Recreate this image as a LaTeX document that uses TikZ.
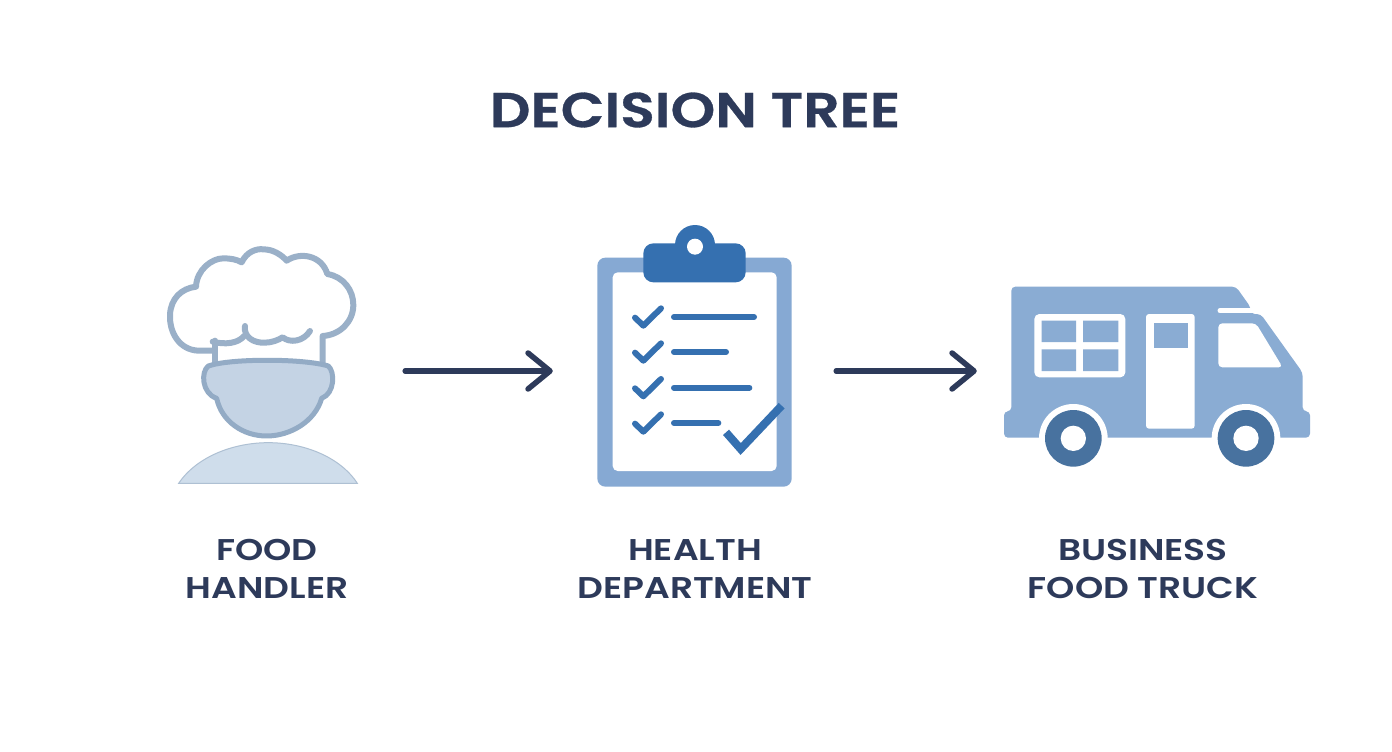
\documentclass[tikz,border=0pt]{standalone}
\usepackage{xcolor}
\usepackage{fontspec}
\setmainfont{Poppins}[BoldFont={Poppins SemiBold},BoldFeatures={FakeStretch=1.2}]
\newfontfamily\titlefont{Poppins SemiBold}[FakeStretch=1.16,FakeBold=0.6]
\usetikzlibrary{arrows.meta}

\definecolor{inkblue}{HTML}{2D3A5A}
\definecolor{hatblue}{HTML}{9AB0C8}
\definecolor{faceblue}{HTML}{C4D3E4}
\definecolor{skinline}{HTML}{93ABC5}
\definecolor{bodyblue}{HTML}{CFDDEB}
\definecolor{boardblue}{HTML}{86A9D3}
\definecolor{clipblue}{HTML}{3570B0}
\definecolor{truckblue}{HTML}{8AACD3}
\definecolor{wheelblue}{HTML}{48729F}

\tikzset{
    iconbox/.style={minimum height=226pt,inner sep=0pt},
    steplabel/.style={align=center,text=inkblue,font=\fontsize{30}{38}\selectfont\bfseries},
    flowarrow/.style={draw=inkblue,line width=5.5pt,line cap=round,-{Straight Barb[length=22pt,width=36pt,line width=5.5pt,round]}},
    tickmark/.style={draw=clipblue,line width=6pt,line cap=round,line join=round},
    taskline/.style={draw=clipblue,line width=6pt,line cap=round},
    hatline/.style={draw=hatblue,line width=6pt,line cap=round,line join=round}
}

\begin{document}
\begin{tikzpicture}[x=1pt,y=-1pt]
    \useasboundingbox[fill=white] (0,0) rectangle (1392,752);

    \node[text=inkblue,font=\fontsize{49}{49}\selectfont\titlefont] (title) at (695,110) {DECISION TREE};

    \node[iconbox,minimum width=179pt] (handler) at (267.5,371) {};
    \node[iconbox,minimum width=195pt] (health) at (694.5,371) {};
    \node[iconbox,minimum width=307pt] (truck) at (1156.5,371) {};

    % chef
    \begin{scope}[shift={(140,230)},scale=1/3]
        \draw[hatline] (225,403) -- (225,332);
        \draw[hatline] (220,362) -- (175,362) .. controls (120,360) and (88,310) .. (90,255)
            .. controls (92,205) and (125,175) .. (168,170)
            .. controls (170,120) and (215,85) .. (250,85)
            .. controls (270,85) and (290,88) .. (305,97)
            .. controls (320,65) and (350,55) .. (370,58)
            .. controls (400,58) and (425,75) .. (440,92)
            .. controls (480,65) and (545,75) .. (562,132)
            .. controls (610,140) and (640,180) .. (640,225)
            .. controls (640,275) and (600,315) .. (548,318) -- (548,403);
        \draw[hatline] (218,335) .. controls (255,345) and (295,340) .. (312,318);
        \draw[hatline] (315,288) .. controls (310,320) and (340,340) .. (375,338)
            .. controls (395,338) and (415,330) .. (428,322)
            .. controls (450,340) and (490,335) .. (510,303);
        \draw[fill=faceblue,draw=skinline,line width=5pt,line join=round] (205,408)
            .. controls (270,385) and (490,385) .. (565,408)
            .. controls (585,425) and (585,490) .. (545,505)
            .. controls (525,575) and (450,618) .. (380,618)
            .. controls (310,618) and (245,575) .. (230,505)
            .. controls (185,490) and (182,425) .. (205,408) -- cycle;
        \draw[fill=bodyblue,draw=hatblue!80,line width=1pt] (116,760)
            .. controls (170,680) and (280,638) .. (385,638)
            .. controls (490,638) and (600,680) .. (652,760) -- cycle;
    \end{scope}

    % clipboard
    \begin{scope}[shift={(580,215)},scale=1/3]
        \fill[boardblue,rounded corners=8pt] (52,128) rectangle (635,815);
        \fill[white,rounded corners=5pt] (98,172) rectangle (590,768);
        \fill[clipblue] (345,90) circle (60);
        \fill[clipblue,rounded corners=10pt] (190,85) rectangle (497,202);
        \fill[white] (345,95) circle (24);
        \foreach \ypos/\xend in {306/522,411/438,518/508,624/415} {
            \draw[taskline] (282,\ypos) -- (\xend,\ypos);
            \draw[tickmark] (165,\ypos+2) -- (190,\ypos+26) -- (243,\ypos-26);
        }
        \draw[tickmark,line width=8pt,line cap=butt,line join=miter] (438,652) -- (482,702) -- (605,572);
    \end{scope}

    % truck
    \begin{scope}[shift={(990,270)},scale=1/3]
        \fill[truckblue,rounded corners=4pt] (64,503) -- (42,503) -- (42,424) -- (64,424) -- (64,50) -- (738,50) -- (782,112)
            -- (782,132) -- (812,132) -- (938,308) -- (938,424) -- (960,424) -- (960,503) -- cycle;
        \draw[white,line width=5pt,line cap=round] (690,122) -- (800,122);
        \fill[white,rounded corners=5pt] (133,132) rectangle (406,322);
        \fill[truckblue] (155,152) rectangle (258,216) (279,152) rectangle (385,216)
            (155,238) rectangle (258,303) (279,238) rectangle (385,303);
        \fill[white,rounded corners=3pt] (468,132) rectangle (614,476);
        \fill[truckblue] (491,158) rectangle (595,234);
        \fill[white,rounded corners=4pt] (685,160) -- (798,160) -- (878,292) -- (685,292) -- cycle;
        \begin{scope}
            \clip (100,380) rectangle (900,503);
            \fill[white] (250,505) circle (103) (768,505) circle (103);
        \end{scope}
        \foreach \xpos in {250,768} {
            \fill[wheelblue] (\xpos,505) circle (85);
            \fill[white] (\xpos,505) circle (38);
        }
    \end{scope}

    \draw[flowarrow,shorten <=48pt,shorten >=44pt] (handler) -- (health);
    \draw[flowarrow,shorten <=44pt,shorten >=26pt] (health) -- (truck);

    \node[steplabel] (handlerlabel) at (267,569) {FOOD\\HANDLER};
    \node[steplabel] (healthlabel) at (695,569) {HEALTH\\DEPARTMENT};
    \node[steplabel] (trucklabel) at (1143,569) {BUSINESS\\FOOD TRUCK};
\end{tikzpicture}
\end{document}
